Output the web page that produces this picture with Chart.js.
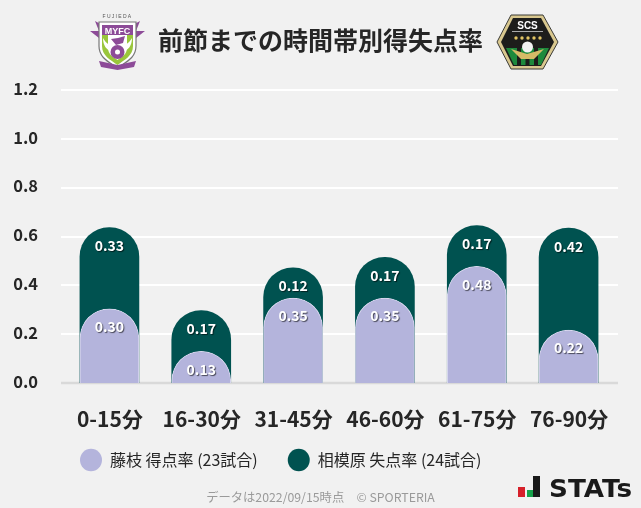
<!DOCTYPE html>
<html><head><meta charset="utf-8">
<style>
html,body{margin:0;padding:0;background:#f1f1f1;width:641px;height:508px;overflow:hidden}
#wrap{position:relative;width:641px;height:508px;font-family:"Noto Sans CJK JP",sans-serif}
canvas{position:absolute;left:0;top:0}
.abs{position:absolute}
#foot{left:0;width:641px;top:489px;text-align:center;font-size:12.300px;line-height:16px;color:#9a9a9a;white-space:pre}
</style></head><body>
<div id="wrap">
<canvas id="c" width="641" height="508"></canvas>
<svg class="abs" style="left:88px;top:12px" width="60" height="60" viewBox="0 0 60 60">
 <text x="29.500" y="6" font-size="5" text-anchor="middle" fill="#555" font-family="Liberation Sans" letter-spacing="1.300">FUJIEDA</text>
 <path d="M2 19 L11 19 L7 9 L16 14 L43 14 L52 9 L48 19 L57 19 L48 26 L11 26Z" fill="#8d4b98"/>
 <path d="M11 10 H48 V34 C48 46 38 50 29.500 56 C21 50 11 46 11 34Z" fill="#fff" stroke="#777" stroke-width="1.200"/>
 <path d="M14 13 H45 V34 C45 44 36 48 29.500 53 C23 48 14 44 14 34Z" fill="#9ac63c"/>
 <path d="M20 21 H39 V36 C39 42 34 45 29.500 48 C25 45 20 42 20 36Z" fill="#fff"/>
 <rect x="14" y="13" width="31" height="10" fill="#8d4b98"/>
 <text x="29.500" y="22" font-size="9" font-weight="700" text-anchor="middle" fill="#fff" font-family="Liberation Sans">MYFC</text>
 <path d="M15 26 C18 32 24 35 29 35 C34 35 41 32 44 26 C44 34 40 38 36 39 H23 C19 38 15 34 15 26Z" fill="#fff"/>
 <path d="M23 27 L30 26 L37 24 L35 31 L28 33Z" fill="#8d4b98"/>
 <circle cx="29.500" cy="40" r="7" fill="#8d4b98"/><circle cx="29.500" cy="40" r="2.500" fill="#fff"/>
 <path d="M11 49 L29.500 53 L48 49 L46 55 L29.500 58 L13 55Z" fill="#8d4b98"/>
</svg>
<svg class="abs" style="left:496px;top:14px" width="64" height="56" viewBox="0 0 64 56">
 <path d="M15 1 H47 L62 28 L47 55 H15 L1 28Z" fill="#d9c88f" stroke="#3a3a36" stroke-width="1"/>
 <path d="M17 4 H45 L58 28 L45 52 H17 L5 28Z" fill="#1d1d1b"/>
 <text x="31.500" y="15" font-size="10" font-weight="700" text-anchor="middle" fill="#fff" font-family="Liberation Sans">SCS</text>
 <rect x="16" y="17" width="31" height="1" fill="#aaa"/>
 <g fill="#e1c463"><circle cx="20" cy="24" r="1.700"/><circle cx="26" cy="24" r="1.700"/><circle cx="32" cy="24" r="1.700"/><circle cx="38" cy="24" r="1.700"/><circle cx="44" cy="24" r="1.700"/></g>
 <path d="M10 34 H53 L45 51 H18Z" fill="#1e8a3c"/>
 <g fill="#1d1d1b"><rect x="21" y="34" width="4" height="18"/><rect x="29.500" y="40" width="4" height="12"/><rect x="38" y="34" width="4" height="18"/></g>
 <path d="M15 35 L31 40 L48 35 L38 45 H25Z" fill="#d6bb67"/>
 <circle cx="31.500" cy="33" r="5.500" fill="#f2f2f2"/>
</svg>
<div class="abs" id="foot">データは2022/09/15時点　© SPORTERIA</div>
<svg class="abs" style="left:516px;top:476px" width="120" height="24" viewBox="0 0 120 24">
 <rect x="2" y="11" width="7" height="10" fill="#d6202a"/>
 <rect x="11" y="14" width="6" height="7" fill="#17a24b"/>
 <rect x="17" y="0" width="7" height="21" fill="#1a1a1a"/>
 <text x="33" y="21" font-size="24" font-weight="700" fill="#1a1a1a" font-family="DejaVu Sans" textLength="83" lengthAdjust="spacingAndGlyphs">STATs</text>
</svg>
</div>
<script src="https://cdn.jsdelivr.net/npm/chart.js@4"></script>
<script>
const categories = ['0-15分','16-30分','31-45分','46-60分','61-75分','76-90分'];
const fujiedaGoals = [0.304,0.130,0.348,0.348,0.478,0.217];
const sagamiharaConceded = [0.333,0.167,0.124,0.167,0.167,0.417];
const yTicks = [0,0.2,0.4,0.6,0.8,1.0,1.2];
const seriesNames = ['藤枝 得点率 (23試合)','相模原 失点率 (24試合)'];
const titleText = '前節までの時間帯別得失点率';
const stackedTop = sagamiharaConceded.map((v,i)=>v+fujiedaGoals[i]);
const FONT = '"Noto Sans CJK JP", sans-serif';
const LAV='#b4b4dc', DARK='#005250', INK='#262626';

const chromePlugin = {
  id:'chrome',
  beforeLayout(chart){
    const lg=chart.legend;
    if(lg && !lg._wrapped){
      const f=lg.fit;
      lg.fit=function(){f.call(this); this.height=0;};
      lg._wrapped=true;
    }
  },
  afterLayout(chart){
    const lg=chart.legend;
    if(lg){ lg.left=50; lg.top=422; lg.bottom=489; lg.right=641; lg.width=591; lg.height=67; }
    const tb=chart.titleBlock;
    if(tb){ tb.left=0; tb.right=chart.width; }
  },
  beforeDatasetsDraw(chart){
    const y=chart.scales.y, c=chart.ctx;
    c.save();
    c.strokeStyle='#ffffff'; c.lineWidth=2;
    yTicks.slice(1).forEach(t=>{const p=Math.round(y.getPixelForValue(t));c.beginPath();c.moveTo(61,p);c.lineTo(618,p);c.stroke();});
    c.strokeStyle='#d9d9d9'; c.lineWidth=2.500;
    const p0=Math.round(y.getPixelForValue(0));
    c.beginPath();c.moveTo(61,p0);c.lineTo(618,p0);c.stroke();
    c.restore();
  },
  afterDatasetsDraw(chart){
    const c=chart.ctx;
    c.save();
    c.font='700 14px '+FONT; c.textAlign='center'; c.textBaseline='middle';
    [[1,sagamiharaConceded],[0,fujiedaGoals]].forEach(([di,vals])=>{
      chart.getDatasetMeta(di).data.forEach((b,i)=>{
        c.shadowColor='rgba(0,0,0,.6)'; c.shadowOffsetX=1; c.shadowOffsetY=1; c.shadowBlur=1;
        c.fillStyle='#ffffff';
        c.fillText(vals[i].toFixed(2),b.x,b.y+18);
      });
    });
    c.restore();
  }
};

new Chart(document.getElementById('c'),{
  type:'bar',
  data:{labels:categories,datasets:[
    {label:seriesNames[0],data:fujiedaGoals,base:-0.3,clip:0,backgroundColor:LAV,borderColor:'#d8d8ee',borderWidth:{top:1,left:1,right:1,bottom:0},borderRadius:{topLeft:30,topRight:30},borderSkipped:'bottom',order:1,barThickness:59,grouped:false},
    {label:seriesNames[1],data:stackedTop,base:-0.3,clip:0,backgroundColor:DARK,borderWidth:0,borderRadius:{topLeft:30,topRight:30},borderSkipped:'bottom',order:2,barThickness:59,grouped:false}
  ]},
  plugins:[chromePlugin],
  options:{
    responsive:false,animation:false,
    layout:{padding:{left:0,right:26.500,top:0,bottom:75}},
    scales:{
      x:{grid:{display:false},border:{display:false},
        afterFit(s){s.height=50;},
        ticks:{color:INK,font:{family:FONT,size:21,weight:'700'},padding:15,maxRotation:0,labelOffset:0.500}},
      y:{min:0,max:1.2,grid:{display:false},border:{display:false},
        afterFit(s){s.width=63.500;},
        afterBuildTicks(s){s.ticks=yTicks.map(v=>({value:v}));},
        ticks:{color:INK,font:{family:FONT,size:16.500,weight:'700'},padding:17.500,labelOffset:-1.500,callback:v=>v.toFixed(1)}}
    },
    plugins:{
      tooltip:{enabled:false},
      title:{display:true,text:titleText,color:INK,font:{family:FONT,size:25,weight:'700'},padding:{top:25,bottom:35}},
      legend:{display:true,position:'bottom',align:'start',
        labels:{usePointStyle:true,pointStyle:'circle',boxHeight:22,pointStyleWidth:22,color:INK,font:{family:FONT,size:16},padding:30,
          generateLabels(chart){
            return Chart.defaults.plugins.legend.labels.generateLabels(chart).map(l=>Object.assign(l,{lineWidth:0}));
          }}}
    }
  }
});
</script>
</body></html>
